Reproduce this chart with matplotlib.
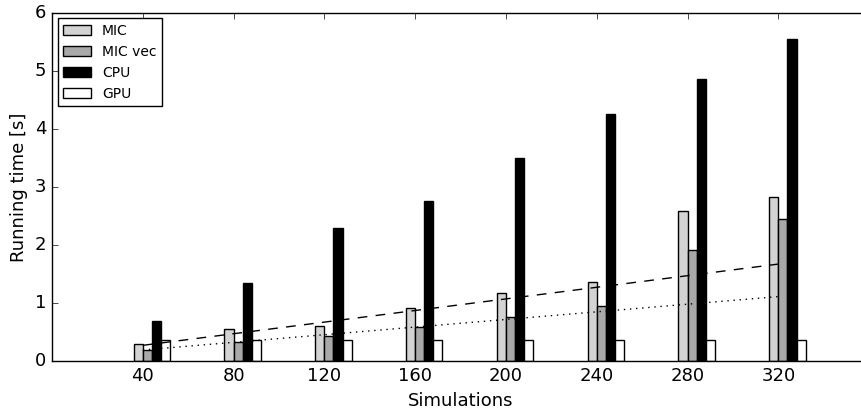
import numpy as np
import matplotlib
matplotlib.use('Agg')
import matplotlib.pyplot as plt

# Simulation counts on the x axis
simulations = [40, 80, 120, 160, 200, 240, 280, 320]

# Running times [s]
mic = [0.29, 0.55, 0.60, 0.92, 1.17, 1.36, 2.58, 2.82]
mic_vec = [0.19, 0.33, 0.43, 0.58, 0.76, 0.95, 1.92, 2.45]
cpu = [0.69, 1.35, 2.29, 2.76, 3.49, 4.25, 4.86, 5.54]
gpu = [0.36, 0.36, 0.37, 0.36, 0.36, 0.37, 0.37, 0.37]

# trend lines (end points)
trend_x = [40, 320]
trend_dashed = [0.27, 1.67]
trend_dotted = [0.19, 1.11]

plt.style.use('classic')

fig = plt.figure(figsize=(8.62, 4.13), dpi=100)
fig.patch.set_facecolor('white')
# axes run past the right edge, as in the reference crop
ax = fig.add_axes([0.0603, 0.1259, 0.948, 0.8433])

x = np.array(simulations)
w = 4
ax.bar(x - w, mic, w, align='edge', color='#d3d3d3', edgecolor='black', lw=1, label='MIC')
ax.bar(x, mic_vec, w, align='edge', color='#a9a9a9', edgecolor='black', lw=1, label='MIC vec')
ax.bar(x + w, cpu, w, align='edge', color='black', edgecolor='black', lw=1, label='CPU')
ax.bar(x + 2 * w, gpu, w, align='edge', color='white', edgecolor='black', lw=1, label='GPU')

ax.plot(trend_x, trend_dashed, color='black', ls=(0, (7, 6)), lw=1)
ax.plot(trend_x, trend_dotted, color='black', ls=(0, (1, 3.4)), lw=1)

ax.set_xlim(0, 360)
ax.set_ylim(0, 6)
ax.set_xticks(simulations)
ax.set_yticks(range(7))
ax.tick_params(labelsize=13)
ax.set_xlabel('Simulations', fontsize=13)
ax.set_ylabel('Running time [s]', fontsize=13)
# right edge of the frame is cut off in the reference
ax.spines['right'].set_visible(False)

ax.legend(loc='upper left', fontsize=10, frameon=True, fancybox=False,
          borderaxespad=0.4, handlelength=2.0, labelspacing=0.5)

fig.savefig('out.png', dpi=100, facecolor='white')
